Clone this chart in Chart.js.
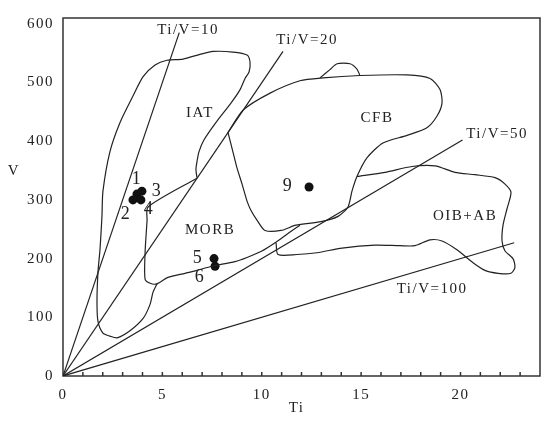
<!DOCTYPE html>
<html><head><meta charset="utf-8">
<script src="https://cdn.jsdelivr.net/npm/chart.js@4.4.1/dist/chart.umd.min.js"></script>
<style>html,body{margin:0;padding:0;background:#fff;}#wrap{width:550px;height:421px;}</style>
</head><body><div id="wrap"><canvas id="c" width="550" height="421"></canvas></div>
<script>
// ---- data (Ti in %/1000 units, V in ppm) ----
const iatTi = [4.73,4.53,4.38,4.03,3.37,2.72,2.36,2.01,1.76,1.71,1.76,1.86,1.96,2.01,2.36,2.87,3.52,4.03,4.63,5.23,6.04,6.89,7.55,8.55,9.26,9.41,9.36,9.16,8.91,8.45,7.70,7.09,6.84,6.74,6.69,6.74];
const iatV  = [157,143,122,98,77,65,68,73,93,127,177,215,272,315,382,432,477,510,530,538,540,548,553,552,547,535,518,507,488,465,432,402,382,365,352,338];
const morbTi = [6.74,4.28,4.23,4.13,4.13,4.38,4.73,5.28,6.14,6.74,7.50,8.65,9.26,10.01,10.67,11.32,11.92];
const morbV  = [337,288,265,210,165,158,157,168,175,180,187,195,202,213,227,243,257];
const cfbTi = [8.30,8.55,8.75,9.01,9.26,9.46,9.81,10.16,10.97,11.72,12.98,13.84,14.34,14.54,14.79,15.30,16.10,17.31,18.31,18.82,19.07,18.97,18.47,17.31,14.94,13.08,11.92,10.42,9.06,8.30];
const cfbV  = [415,382,355,327,298,282,263,248,248,257,263,272,288,315,340,372,397,410,423,443,465,488,507,513,512,508,503,482,453,415];
const cfbBumpTi = [12.93,13.43,13.79,14.44,14.79,14.94];
const cfbBumpV  = [508,522,532,532,523,512];
const oibTi = [10.72,10.82,11.77,12.78,14.04,15.70,16.96,17.71,18.47,19.07,19.82,20.63,21.23,21.89,22.54,22.74,22.64,22.24,22.09,22.14,22.34,22.54,22.24,21.74,20.73,19.72,18.72,17.56,16.20,14.79];
const oibV  = [227,207,207,210,218,223,222,222,232,230,215,193,180,175,175,185,200,213,230,257,285,313,327,338,343,347,358,357,347,340];
const sampleIds = ['1','2','3','4','5','6','9'];
const sampleTi  = [3.72,3.52,3.97,3.92,7.60,7.65,12.38];
const sampleV   = [310,300,315,300,200,187,322];
const refNames  = ['Ti/V=10','Ti/V=20','Ti/V=50','Ti/V=100'];
const refEndTi  = [5.85,11.07,20.1,22.7];
const refEndV   = [585,553,402,227];
const xTickValues = [0,1,2,3,4,5,6,7,8,9,10,11,12,13,14,15,16,17,18,19,20,21,22,23,24];
const xTickLabels = ['0','','','','','5','','','','','10','','','','','15','','','','','20','','','',''];
const yTickValues = [0,100,200,300,400,500,600];
const yTickLabels = ['0','100','200','300','400','500','600'];

// ---- rendering ----
const FONT = "'Liberation Serif','Times New Roman',serif";
const INK = '#222';
function pts(xs, ys){ return xs.map((x,i)=>({x:x, y:ys[i]})); }
const outline = {showLine:true, pointRadius:0, pointHoverRadius:0, borderColor:INK, borderWidth:1.2, tension:0.25, fill:false};

const datasets = [
  Object.assign({label:'IAT', data:pts(iatTi,iatV)}, outline),
  Object.assign({label:'MORB', data:pts(morbTi,morbV)}, outline),
  Object.assign({label:'CFB', data:pts(cfbTi,cfbV)}, outline),
  Object.assign({label:'CFB2', data:pts(cfbBumpTi,cfbBumpV)}, outline),
  Object.assign({label:'OIB+AB', data:pts(oibTi,oibV)}, outline)
];
refNames.forEach((n,i)=>{
  datasets.push({label:n, data:[{x:0,y:0},{x:refEndTi[i],y:refEndV[i]}], showLine:true, pointRadius:0, pointHoverRadius:0, borderColor:INK, borderWidth:1.2, tension:0});
});
datasets.push({label:'samples', data:pts(sampleTi,sampleV), showLine:false, pointRadius:4.5, pointHoverRadius:4.5, backgroundColor:'#111', borderColor:'#111', borderWidth:0});

const textPlugin = {
  id:'texts',
  beforeDraw(chart){ chart.ctx.letterSpacing = '1.5px'; },
  beforeDatasetsDraw(chart){
    const {ctx, chartArea:a} = chart;
    ctx.save();
    ctx.strokeStyle = '#333'; ctx.lineWidth = 1.5;
    ctx.strokeRect(a.left, a.top, a.right-a.left, a.bottom-a.top);
    const xs = chart.scales.x;
    xs.ticks.forEach(t=>{
      if (t.value<=xs.min || t.value>=xs.max) return;
      const px = xs.getPixelForValue(t.value);
      ctx.beginPath(); ctx.moveTo(px, a.bottom); ctx.lineTo(px, a.bottom-4); ctx.stroke();
    });
    ctx.restore();
  },
  afterDraw(chart){
    const {ctx} = chart;
    const xs = chart.scales.x, ys = chart.scales.y;
    ctx.save();
    ctx.letterSpacing = '1.5px';
    ctx.fillStyle = INK; ctx.textAlign='center'; ctx.textBaseline='middle';
    const ann = [
      ['Ti/V=10',6.29,590,15],['Ti/V=20',12.28,573,15],['Ti/V=50',21.84,413,15],['Ti/V=100',18.57,148,15],
      ['IAT',6.89,448,15],['CFB',15.8,440,15],['MORB',7.4,248,15],['OIB+AB',20.23,272,15]
    ];
    ann.forEach(([t,x,y,s])=>{
      ctx.font = s+'px '+FONT;
      ctx.fillText(t, xs.getPixelForValue(x), ys.getPixelForValue(y));
    });
    const offs = {'1':[0,-15],'2':[-7,14],'3':[15,0],'4':[8,9],'5':[-16,0],'6':[-15,11],'9':[-21,-1]};
    ctx.font = '18px '+FONT;
    sampleIds.forEach((id,i)=>{
      const o = offs[id] || [0,-12];
      ctx.fillText(id, xs.getPixelForValue(sampleTi[i])+o[0], ys.getPixelForValue(sampleV[i])+o[1]);
    });
    ctx.font = '15px '+FONT;
    ctx.fillText('V', 14, ys.getPixelForValue(350));
    ctx.fillText('Ti', xs.getPixelForValue(11.75), 408);
    ctx.restore();
  }
};

new Chart(document.getElementById('c'), {
  type:'scatter',
  data:{datasets:datasets},
  options:{
    responsive:false, animation:false,
    layout:{padding:{top:10,right:10,left:0,bottom:0}},
    plugins:{legend:{display:false}, tooltip:{enabled:false}},
    events:[],
    scales:{
      x:{type:'linear', min:0, max:24, afterFit:s=>{s.height=45;},
         afterBuildTicks:s=>{ s.ticks = xTickValues.map(v=>({value:v})); },
         grid:{display:false, drawTicks:false}, border:{display:false},
         ticks:{autoSkip:false, maxRotation:0, padding:10, color:INK, font:{family:FONT,size:15},
                callback:(v)=>{ const i = xTickValues.indexOf(v); return i>=0 ? xTickLabels[i] : ''; }}},
      y:{type:'linear', min:0, max:610, afterFit:s=>{s.width=63;},
         afterBuildTicks:s=>{ s.ticks = yTickValues.map(v=>({value:v})); },
         grid:{display:false, drawTicks:false}, border:{display:false},
         ticks:{autoSkip:false, padding:9, color:INK, font:{family:FONT,size:15},
                callback:(v)=>{ const i = yTickValues.indexOf(v); return i>=0 ? yTickLabels[i] : ''; }}}
    }
  },
  plugins:[textPlugin]
});
</script></body></html>
